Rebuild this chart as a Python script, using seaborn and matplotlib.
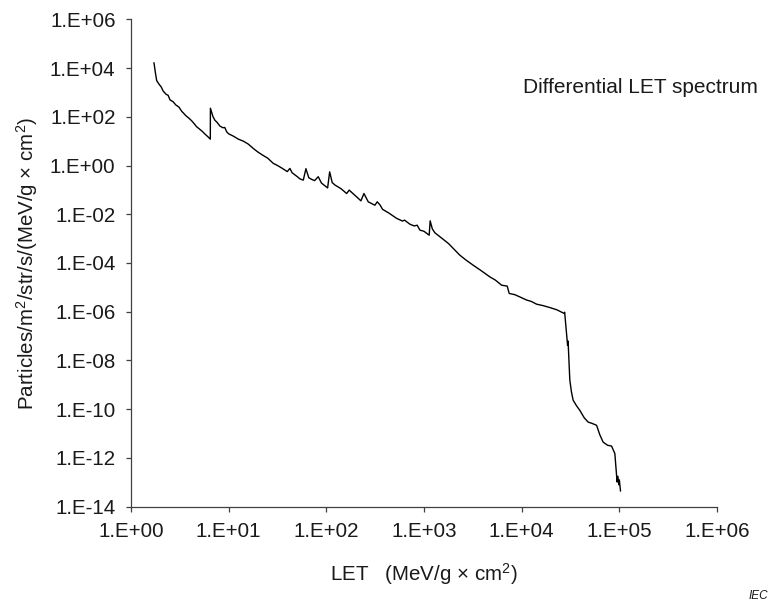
import numpy as np
import pandas as pd
import matplotlib
matplotlib.use("Agg")
import matplotlib.pyplot as plt
from matplotlib.ticker import FixedLocator, FuncFormatter, NullLocator
import seaborn as sns

# ---- data (as log10 values) ----
LOG10_LET = [
    0.235, 0.250, 0.263, 0.290, 0.310, 0.330, 0.360, 0.380, 0.400, 0.430,
    0.460, 0.490, 0.520, 0.535, 0.560, 0.590, 0.620, 0.650, 0.672, 0.700,
    0.730, 0.760, 0.790, 0.812, 0.813, 0.840, 0.860, 0.877, 0.910, 0.940,
    0.960, 0.980, 1.000, 1.050, 1.100, 1.150, 1.200, 1.252, 1.300, 1.350,
    1.400, 1.456, 1.500, 1.550, 1.600, 1.627, 1.650, 1.700, 1.730, 1.764,
    1.791, 1.820, 1.850, 1.880, 1.917, 1.950, 2.013, 2.034, 2.060, 2.088,
    2.150, 2.208, 2.234, 2.300, 2.354, 2.385, 2.429, 2.497, 2.521, 2.550,
    2.576, 2.640, 2.720, 2.780, 2.800, 2.856, 2.900, 2.930, 2.958, 3.000,
    3.053, 3.063, 3.085, 3.111, 3.197, 3.250, 3.299, 3.367, 3.430, 3.503,
    3.580, 3.674, 3.730, 3.794, 3.852, 3.872, 3.930, 3.980, 4.050, 4.100,
    4.153, 4.220, 4.289, 4.360, 4.435, 4.440, 4.470, 4.475, 4.493, 4.510,
    4.527, 4.560, 4.596, 4.640, 4.681, 4.720, 4.767, 4.800, 4.834, 4.880,
    4.920, 4.954, 4.977, 4.985, 4.995, 5.000, 5.012,
]
LOG10_FLUX = [
    4.22, 3.80, 3.48, 3.32, 3.22, 3.05, 2.92, 2.88, 2.69, 2.62,
    2.48, 2.40, 2.22, 2.16, 2.05, 1.95, 1.84, 1.70, 1.59, 1.50,
    1.40, 1.28, 1.17, 1.08, 2.35, 2.00, 1.85, 1.79, 1.62, 1.55,
    1.56, 1.38, 1.30, 1.20, 1.08, 1.00, 0.88, 0.70, 0.55, 0.42,
    0.30, 0.09, 0.00, -0.12, -0.25, -0.12, -0.30, -0.45, -0.55, -0.60,
    -0.13, -0.50, -0.57, -0.62, -0.46, -0.72, -0.92, -0.26, -0.70, -0.80,
    -0.95, -1.15, -1.01, -1.25, -1.45, -1.15, -1.49, -1.63, -1.49, -1.62,
    -1.80, -1.95, -2.17, -2.28, -2.24, -2.41, -2.48, -2.45, -2.65, -2.70,
    -2.86, -2.27, -2.60, -2.76, -3.03, -3.20, -3.40, -3.68, -3.88, -4.09,
    -4.30, -4.57, -4.70, -4.91, -4.95, -5.25, -5.30, -5.39, -5.52, -5.58,
    -5.69, -5.75, -5.83, -5.92, -6.07, -6.02, -7.38, -7.20, -8.81, -9.30,
    -9.63, -9.85, -10.05, -10.35, -10.53, -10.58, -10.66, -11.05, -11.35, -11.48,
    -11.51, -11.82, -12.99, -12.75, -13.10, -12.90, -13.36,
]
X_TICKS = [1e0, 1e1, 1e2, 1e3, 1e4, 1e5, 1e6]
Y_TICKS = [1e-14, 1e-12, 1e-10, 1e-8, 1e-6, 1e-4, 1e-2, 1e0, 1e2, 1e4, 1e6]
ANNOTATION = "Differential LET spectrum"
X_LABEL = "LET   (MeV/g \u00d7 cm$^2$)"
Y_LABEL = "Particles/m$^2$/str/s/(MeV/g \u00d7 cm$^2$)"
SOURCE = "IEC"

df = pd.DataFrame({"LET": np.power(10.0, LOG10_LET),
                   "flux": np.power(10.0, LOG10_FLUX)})

sns.set_style("ticks")
plt.rcParams["font.family"] = ["Liberation Sans", "DejaVu Sans"]
plt.rcParams["mathtext.fontset"] = "custom"
plt.rcParams["mathtext.rm"] = "Liberation Sans"
plt.rcParams["mathtext.it"] = "Liberation Sans:italic"
plt.rcParams["mathtext.bf"] = "Liberation Sans:bold"

FS = 14.8
fig = plt.figure(figsize=(7.77, 6.08), dpi=100)
ax = fig.add_axes([0.1686, 0.1666, 0.7542, 0.8017])

sns.lineplot(data=df, x="LET", y="flux", sort=False, estimator=None,
             color="black", linewidth=1.0, ax=ax)

ax.set_xscale("log")
ax.set_yscale("log")
ax.set_xlim(X_TICKS[0], X_TICKS[-1])
ax.set_ylim(Y_TICKS[0], Y_TICKS[-1])

fmt = FuncFormatter(lambda v, pos: f"1.E{int(round(np.log10(v))):+03d}")
ax.xaxis.set_major_locator(FixedLocator(X_TICKS))
ax.yaxis.set_major_locator(FixedLocator(Y_TICKS))
ax.xaxis.set_minor_locator(NullLocator())
ax.yaxis.set_minor_locator(NullLocator())
ax.xaxis.set_major_formatter(fmt)
ax.yaxis.set_major_formatter(fmt)

for s in ["top", "right"]:
    ax.spines[s].set_visible(False)
for s in ["left", "bottom"]:
    ax.spines[s].set_color("#404040")
    ax.spines[s].set_linewidth(0.9)
ax.tick_params(axis="both", which="major", direction="out", length=3.6,
               width=0.9, color="#404040", labelsize=FS, labelcolor="#1a1a1a",
               pad=7.5)

ax.set_xlabel(X_LABEL, fontsize=FS, color="#1a1a1a")
ax.set_ylabel(Y_LABEL, fontsize=FS, color="#1a1a1a")
ax.xaxis.label.set_va("baseline")
ax.xaxis.set_label_coords(0.5, -0.1518)
ax.yaxis.label.set_va("baseline")
ax.yaxis.set_label_coords(-0.1667, 0.5)

fig.text(523 / 777, 1 - 92.7 / 608, ANNOTATION, fontsize=15.0,
         color="#1a1a1a", ha="left", va="baseline")
fig.text(768 / 777, 1 - 599 / 608, SOURCE, fontsize=8.5, style="italic",
         color="#1a1a1a", ha="right", va="baseline")

fig.savefig("out.png", dpi=100)
